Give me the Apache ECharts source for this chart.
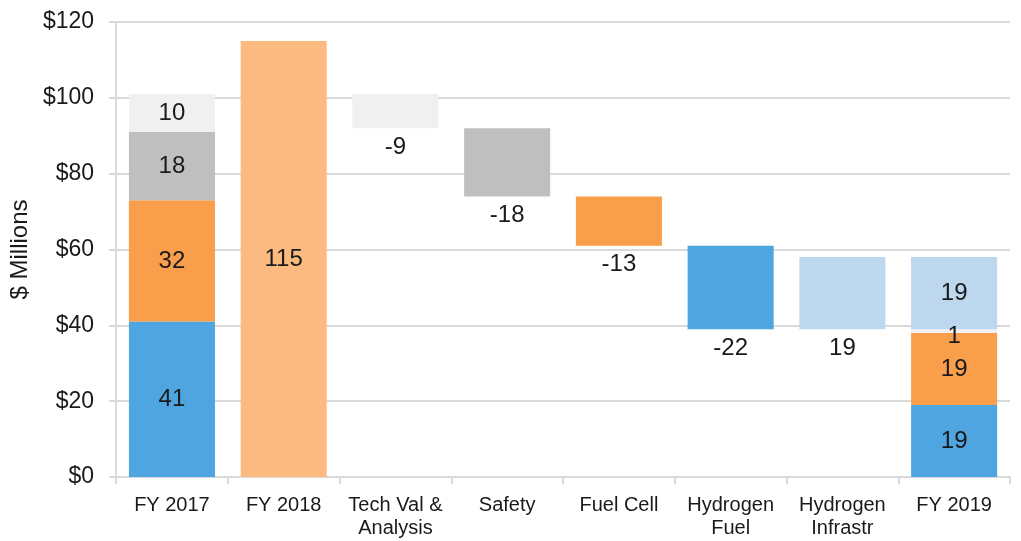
<!DOCTYPE html>
<html>
<head>
<meta charset="utf-8">
<script src="https://cdn.jsdelivr.net/npm/echarts@6/dist/echarts.min.js"></script>
<style>
  html, body { margin: 0; padding: 0; background: #fff; }
  #chart { width: 1021px; height: 541px; }
</style>
</head>
<body>
<div id="chart"></div>
<script>
// Budget categories along the x axis
const categories = ['FY 2017', 'FY 2018', 'Tech Val &\nAnalysis', 'Safety', 'Fuel Cell', 'Hydrogen\nFuel', 'Hydrogen\nInfrastr', 'FY 2019'];

// FY 2017 breakdown ($M): hydrogen fuel, fuel cell, safety, tech val & analysis
const fy2017 = [41, 32, 18, 10];
// FY 2018 total ($M)
const fy2018 = 115;
// Changes from FY 2017 by program ($M)
const changes = [-9, -18, -13, -22, 19];
// FY 2019 breakdown ($M): hydrogen fuel, fuel cell, other, infrastructure
const fy2019 = [19, 19, 1, 19];

const yTicks = [0, 20, 40, 60, 80, 100, 120];

const C = {
  blue: '#4FA5E0',
  orange: '#F99E4A',
  gray: '#BFBFBF',
  light: '#F0F0F0',
  peach: '#FBBB80',
  sky: '#BDD7EE',
  text: '#1a1a1a'
};
const FONT = 'Liberation Sans';

// Running total for the floating step bars
let running = fy2017.reduce((a, b) => a + b, 0);
const base = [0, 0];
const stepColors = [C.light, C.gray, C.orange, C.blue, C.sky];
const stepCells = [];
changes.forEach((d, i) => {
  const next = running + d;
  base.push(Math.min(running, next));
  stepCells.push({ value: Math.abs(d), label: d, color: stepColors[i] });
  running = next;
});
base.push(0);

const n = categories.length;
const empty = () => new Array(n).fill(null);

const inside = { show: true, position: 'inside', color: C.text, fontSize: 24, fontFamily: FONT };
const below = { show: true, position: 'bottom', distance: 7, color: C.text, fontSize: 24, fontFamily: FONT };

// Build each colour layer
const blueData = empty(), orangeData = empty(), grayData = empty(), lightData = empty(), skyData = empty(), peachData = empty();
blueData[0] = { value: fy2017[0], label: inside };
orangeData[0] = { value: fy2017[1], label: inside };
grayData[0] = { value: fy2017[2], label: inside };
lightData[0] = { value: fy2017[3], label: inside };
peachData[1] = { value: fy2018, label: inside };

const layerByColor = { [C.light]: lightData, [C.gray]: grayData, [C.orange]: orangeData, [C.blue]: blueData, [C.sky]: skyData };
stepCells.forEach((s, i) => {
  layerByColor[s.color][2 + i] = {
    value: s.value,
    label: Object.assign({}, below, { formatter: String(s.label) })
  };
});

blueData[7] = { value: fy2019[0], label: inside };
orangeData[7] = { value: fy2019[1], label: inside };
lightData[7] = { value: fy2019[2], label: Object.assign({}, inside, { offset: [0, 5] }) };
skyData[7] = { value: fy2019[3], label: inside };

function bar(name, color, data) {
  return {
    name, type: 'bar', stack: 'total', data,
    barCategoryGap: '23%',
    itemStyle: { color },
    emphasis: { disabled: true },
    silent: true
  };
}

const option = {
  animation: false,
  grid: { left: 115, right: 11, top: 22, bottom: 64 },
  xAxis: {
    type: 'category',
    data: categories,
    axisLine: { lineStyle: { color: '#D9D9D9', width: 2 } },
    axisTick: { show: true, length: 7, lineStyle: { color: '#D9D9D9', width: 2 } },
    axisLabel: { color: C.text, fontSize: 20, fontFamily: FONT, margin: 17, lineHeight: 23, interval: 0 }
  },
  yAxis: {
    type: 'value',
    min: 0, max: 120, interval: 20,
    name: '$ Millions',
    nameLocation: 'middle',
    nameGap: 78,
    nameTextStyle: { color: C.text, fontSize: 24, fontFamily: FONT },
    axisLine: { show: true, lineStyle: { color: '#D9D9D9', width: 2 } },
    axisTick: { show: true, length: 7, lineStyle: { color: '#D9D9D9', width: 2 } },
    axisLabel: {
      color: C.text, fontSize: 23, fontFamily: FONT, margin: 22,
      formatter: v => yTicks.includes(v) ? '$' + v : ''
    },
    splitLine: { lineStyle: { color: '#D9D9D9', width: 2 } }
  },
  series: [
    {
      name: 'base', type: 'bar', stack: 'total', data: base,
      barCategoryGap: '23%',
      itemStyle: { color: 'transparent' },
      emphasis: { disabled: true }, silent: true
    },
    bar('Hydrogen Fuel', C.blue, blueData),
    bar('Fuel Cell', C.orange, orangeData),
    bar('Safety', C.gray, grayData),
    bar('Tech Val & Analysis', C.light, lightData),
    bar('Hydrogen Infrastr', C.sky, skyData),
    bar('FY 2018', C.peach, peachData)
  ]
};

echarts.init(document.getElementById('chart'), null, { renderer: 'canvas' }).setOption(option);
</script>
</body>
</html>
